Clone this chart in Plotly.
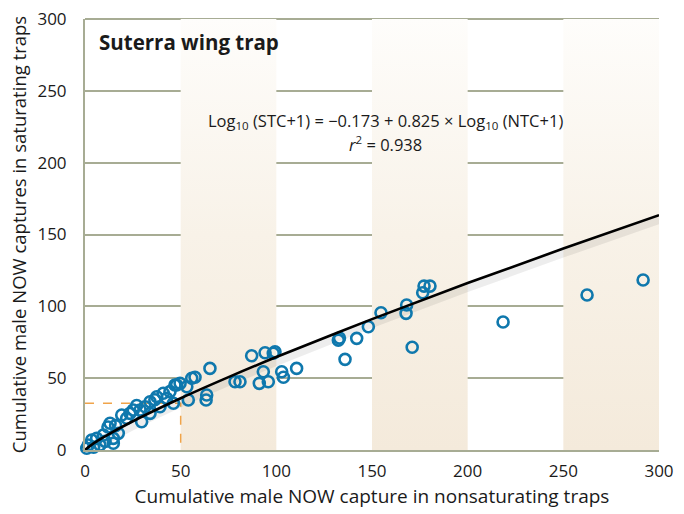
import plotly.graph_objects as go

# ---- data ----
ntc = [0.9, 1.7, 3.5, 4.5, 6.1, 7.8, 9.6, 10.5, 12.0, 13.1, 14.8, 14.8, 16.0, 17.4, 19.2, 21.8,
       23.5, 25.2, 27.0, 28.8, 29.6, 31.4, 34.0, 34.0, 36.5, 37.5, 39.2, 40.9, 42.7, 44.4, 46.2,
       47.0, 47.9, 49.7, 53.2, 54.0, 55.8, 57.5, 63.3, 63.6, 65.3,
       78.4, 81.0, 87.1, 91.1, 93.2, 94.1, 95.8, 98.4, 99.3, 102.8, 103.7, 110.6,
       132.4, 133.0, 135.9, 142.0, 148.1, 154.7, 167.8, 168.1, 171.0, 176.5, 177.2, 180.3,
       218.5, 262.4, 291.7]
stc = [1.2, 3.5, 7.0, 2.0, 8.1, 3.5, 10.4, 6.0, 16.0, 18.6, 8.1, 4.7, 17.0, 11.6, 24.4, 22.1,
       25.5, 27.8, 31.0, 27.8, 19.7, 30.1, 33.6, 25.5, 35.0, 37.1, 30.1, 39.5, 36.0, 40.6, 32.5,
       45.2, 45.2, 46.4, 44.0, 34.8, 49.9, 50.6, 34.8, 38.3, 56.8,
       47.5, 47.5, 65.6, 46.4, 54.5, 67.7, 47.5, 67.3, 68.4, 54.5, 50.6, 56.8,
       76.5, 78.0, 63.1, 77.7, 85.8, 95.5, 95.1, 100.9, 71.5, 109.5, 114.1, 114.1,
       89.1, 107.9, 118.3]

fit_x = [0, 5, 10, 25, 50, 75, 100, 150, 200, 250, 300]
fit_y = [0, 5.1, 9.2, 20.0, 36.0, 50.7, 64.7, 91.1, 116.2, 140.2, 163.5]

band_starts = [50, 150, 250]
box_x = [0, 50]
box_y = [0, 32.5]
tick_vals = [0, 50, 100, 150, 200, 250, 300]

FONT = "Open Sans"
GRID = "#a7ac94"

fig = go.Figure()

# shaded vertical bands with vertical gradient
for x0 in band_starts:
    fig.add_trace(go.Scatter(
        x=[x0, x0 + 50, x0 + 50, x0, x0], y=[0, 0, 300, 300, 0],
        fill="toself", mode="none",
        fillgradient=dict(type="vertical", start=0, stop=300,
                          colorscale=[[0, "#f4eadb"], [0.5, "#f8f2e8"], [1, "#fefdfb"]]),
        hoverinfo="skip", showlegend=False))

# orange dashed box
fig.add_trace(go.Scatter(
    x=[box_x[0], box_x[1], box_x[1]], y=[box_y[1], box_y[1], box_y[0]],
    mode="lines", line=dict(color="#f0a44a", width=1.5, dash="dash"),
    hoverinfo="skip", showlegend=False))

# shadow under fit curve
fig.add_trace(go.Scatter(
    x=fit_x, y=[v - 3 for v in fit_y], mode="lines",
    line=dict(color="rgba(0,0,0,0.07)", width=9, shape="spline"),
    hoverinfo="skip", showlegend=False))

# data points
fig.add_trace(go.Scatter(
    x=ntc, y=stc, mode="markers", cliponaxis=False,
    marker=dict(symbol="circle-open", size=11, color="#0f78ad",
                line=dict(width=2.6, color="#0f78ad")),
    showlegend=False))

# fitted curve
fig.add_trace(go.Scatter(
    x=fit_x, y=fit_y, mode="lines", cliponaxis=False,
    line=dict(color="black", width=2.6, shape="spline"),
    showlegend=False))

fig.update_layout(
    width=684, height=514,
    margin=dict(l=85, r=25, t=19, b=64),
    paper_bgcolor="white", plot_bgcolor="white",
    font=dict(family=FONT, color="#1a1a1a", size=17),
    showlegend=False,
    xaxis=dict(range=[0, 300], tickvals=tick_vals, showgrid=False, zeroline=False,
               showline=True, linecolor=GRID, linewidth=2, ticks="", automargin=False,
               tickfont=dict(size=17), ticklabelstandoff=5,
               title=dict(text="Cumulative male NOW capture in nonsaturating traps",
                          font=dict(size=19), standoff=8)),
    yaxis=dict(range=[0, 300], tickvals=tick_vals, showgrid=True, gridcolor=GRID,
               gridwidth=1.5, zeroline=False, showline=True, linecolor=GRID,
               linewidth=2, ticks="", automargin=False, tickfont=dict(size=17),
               ticklabelstandoff=13,
               title=dict(text="Cumulative male NOW captures in saturating traps",
                          font=dict(size=18.5), standoff=6)),
    # top frame line (gridline at the upper end of the y range)
    shapes=[dict(type="line", xref="paper", yref="paper", x0=0, x1=1, y0=1, y1=1,
                 line=dict(color=GRID, width=2), layer="below")],
    annotations=[
        dict(text="<b>Suterra wing trap</b>", xref="paper", yref="paper",
             x=0.021, y=0.947, xanchor="left", yanchor="middle", showarrow=False,
             font=dict(size=20.5, color="#1a1a1a")),
        dict(text="Log<sub>10</sub> (STC+1) = \u22120.173 + 0.825 \u00d7 Log<sub>10</sub> (NTC+1)",
             xref="paper", yref="paper", x=0.523, y=0.763, xanchor="center",
             yanchor="middle", showarrow=False, font=dict(size=16.5)),
        dict(text="<i>r</i><sup>2</sup> = 0.938", xref="paper", yref="paper",
             x=0.523, y=0.709, xanchor="center", yanchor="middle", showarrow=False,
             font=dict(size=16.5)),
    ],
)

# remove the default page margin so the figure sits at the window's top-left corner
fig.write_html("out.html", config={"displayModeBar": False},
               post_script="document.body.style.margin='0';")
